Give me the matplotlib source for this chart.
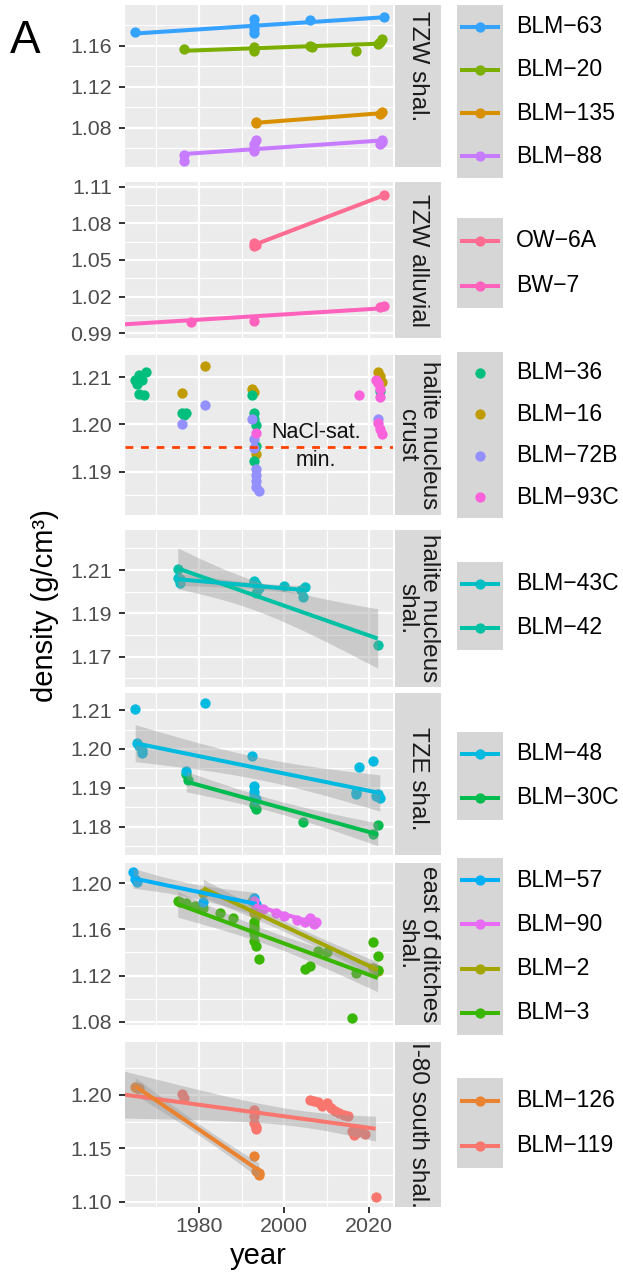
import numpy as np
import matplotlib
matplotlib.use('Agg')
import matplotlib.pyplot as plt
from matplotlib.ticker import FormatStrFormatter

plt.rcParams['font.family'] = ['Liberation Sans', 'DejaVu Sans']

# ---------------- data ----------------
# TZW shal.
blm63_year = [1965, 1993, 1993, 1993, 1993, 2006, 2023.5]
blm63_dens = [1.1730, 1.1860, 1.1800, 1.1760, 1.1720, 1.1845, 1.1880]
blm20_year = [1976.5, 1993, 1993, 1993, 2006, 2006.5, 2017, 2022, 2022.5, 2023]
blm20_dens = [1.1568, 1.1590, 1.1570, 1.1550, 1.1595, 1.1590, 1.1547, 1.1620, 1.1640, 1.1660]
blm135_year = [1993.5, 1993.5, 2022.5, 2023]
blm135_dens = [1.0845, 1.0855, 1.0935, 1.0950]
blm88_year = [1976.5, 1976.5, 1993, 1993, 1993, 1993.5, 2022.5, 2023, 2023]
blm88_dens = [1.0475, 1.0535, 1.0580, 1.0600, 1.0640, 1.0685, 1.0640, 1.0665, 1.0680]

# TZW alluvial
ow6a_year = [1993, 1993, 1993.5, 2023.5]
ow6a_dens = [1.0615, 1.0640, 1.0625, 1.1030]
bw7_year = [1961, 1978, 1993, 2022.5, 2023.5]
bw7_dens = [1.0000, 0.9995, 0.9998, 1.0112, 1.0122]

# halite nucleus crust
blm36_year = [1965, 1965.5, 1966, 1966.5, 1967.5, 1966, 1967, 1976, 1976.5, 1977,
              1992.5, 1993, 1993, 1993.5, 1993.5, 1993, 2022.5]
blm36_dens = [1.2095, 1.2085, 1.2105, 1.2095, 1.2110, 1.2065, 1.2062, 1.2025, 1.2020, 1.2024,
              1.2062, 1.2025, 1.2012, 1.1998, 1.1955, 1.1922, 1.2070]
blm16_year = [1976, 1981.5, 1992.5, 1993, 1993.5, 2022, 2022.5, 2023]
blm16_dens = [1.2066, 1.2123, 1.2074, 1.2068, 1.1938, 1.2110, 1.2103, 1.2090]
blm72b_year = [1976, 1981.5, 1992.5, 1993, 1993, 1993.5, 1993.5, 1993.5, 1993.5, 1994, 2022]
blm72b_dens = [1.2000, 1.2041, 1.2012, 1.1968, 1.1950, 1.1905, 1.1892, 1.1880, 1.1868, 1.1858, 1.2012]
blm93c_year = [1993.5, 2017.5, 2021.5, 2022, 2022.5, 2022.5, 2022, 2022.5, 2023]
blm93c_dens = [1.1982, 1.2062, 1.2095, 1.2088, 1.2075, 1.2058, 1.2003, 1.1990, 1.1980]
nacl_sat_min = 1.1953

# halite nucleus shal.
blm43c_year = [1975, 1975.5, 1993, 1993.5, 1994, 2000, 2004, 2004.5, 2005]
blm43c_dens = [1.2065, 1.2040, 1.2050, 1.2035, 1.2015, 1.2025, 1.2010, 1.1975, 1.2020]
blm42_year = [1975, 1975.5, 1993, 1993.5, 2022]
blm42_dens = [1.2105, 1.2060, 1.2045, 1.1995, 1.1755]

# TZE shal.
blm48_year = [1965, 1965.5, 1966, 1966.5, 1966.5, 1977, 1981.5, 1992.5, 1993, 1993, 1993,
              1993.5, 2017, 2017, 2017.5, 2021, 2021.5, 2022, 2022.5]
blm48_dens = [1.2104, 1.2015, 1.2008, 1.1996, 1.1990, 1.1943, 1.2119, 1.1983, 1.1905, 1.1890, 1.1880,
              1.1870, 1.1890, 1.1885, 1.1953, 1.1970, 1.1880, 1.1885, 1.1875]
blm30c_year = [1977, 1977.5, 1993, 1993, 1993.5, 2004.5, 2021, 2022]
blm30c_dens = [1.1935, 1.1920, 1.1875, 1.1855, 1.1845, 1.1813, 1.1780, 1.1805]

# east of ditches shal.
blm57_year = [1964.5, 1965, 1965.5, 1981, 1993, 1993.5]
blm57_dens = [1.2100, 1.2040, 1.2010, 1.1840, 1.1870, 1.1820]
blm90_year = [1993, 1993.5, 1995, 1998, 2000, 2003, 2005, 2006, 2007, 2007.5]
blm90_dens = [1.1850, 1.1790, 1.1775, 1.1740, 1.1720, 1.1685, 1.1665, 1.1700, 1.1650, 1.1665]
blm2_year = [1981, 1992.5, 1993, 1993.5, 2021, 2021.5, 2022]
blm2_dens = [1.1915, 1.1850, 1.1740, 1.1715, 1.1265, 1.1250, 1.1240]
blm3_year = [1975, 1975.5, 1977, 1979, 1981, 1985, 1988, 1993, 1993, 1993, 1993, 1993, 1993.5, 1994,
             2005, 2006, 2008, 2010, 2016, 2017, 2021, 2022, 2022]
blm3_dens = [1.1850, 1.1840, 1.1830, 1.1800, 1.1790, 1.1740, 1.1700, 1.1660, 1.1630, 1.1600, 1.1560,
             1.1500, 1.1460, 1.1340, 1.1260, 1.1285, 1.1410, 1.1400, 1.0835, 1.1220, 1.1490, 1.1370, 1.1250]

# I-80 south shal.
blm126_year = [1965, 1965.5, 1966, 1993, 1993.5, 1994, 1994]
blm126_dens = [1.2075, 1.2060, 1.2065, 1.1425, 1.1290, 1.1265, 1.1245]
blm119_year = [1961, 1976, 1976.5, 1993, 1993, 1993, 1993.5, 1993.5, 2006, 2007, 2008, 2009,
               2010, 2011, 2012, 2013, 2014, 2015, 2016, 2016.5, 2017, 2018, 2019, 2021.5]
blm119_dens = [1.1860, 1.2005, 1.1970, 1.1860, 1.1800, 1.1740, 1.1700, 1.1680, 1.1950, 1.1945, 1.1930, 1.1900,
               1.1920, 1.1880, 1.1850, 1.1830, 1.1810, 1.1800, 1.1660, 1.1620, 1.1640, 1.1660, 1.1630, 1.1047]

# ggplot hue colours
colors = {
    'BLM-119': '#F8766D', 'BLM-126': '#EA8331', 'BLM-135': '#D89000', 'BLM-16': '#C09B00',
    'BLM-2': '#A3A500', 'BLM-20': '#7CAE00', 'BLM-3': '#39B600', 'BLM-30C': '#00BB4E',
    'BLM-36': '#00BF7D', 'BLM-42': '#00C1A3', 'BLM-43C': '#00BFC4', 'BLM-48': '#00BAE0',
    'BLM-57': '#00B0F6', 'BLM-63': '#35A2FF', 'BLM-72B': '#9590FF', 'BLM-88': '#C77CFF',
    'BLM-90': '#E76BF3', 'BLM-93C': '#FA62DB', 'BW-7': '#FF62BC', 'OW-6A': '#FF6C91',
}

panels = [
    dict(strip='TZW shal.', strip_y=0.62, lines=True, se=False,
         wells=[('BLM-63', blm63_year, blm63_dens), ('BLM-20', blm20_year, blm20_dens),
                ('BLM-135', blm135_year, blm135_dens), ('BLM-88', blm88_year, blm88_dens)],
         ylim=(1.042, 1.1995), yticks=[1.08, 1.12, 1.16], yminor=[1.06, 1.10, 1.14, 1.18],
         box=(5, 167), legend=(5, 178)),
    dict(strip='TZW alluvial', strip_y=0.5, lines=True, se=False,
         wells=[('OW-6A', ow6a_year, ow6a_dens), ('BW-7', bw7_year, bw7_dens)],
         ylim=(0.9862, 1.1138), yticks=[0.99, 1.02, 1.05, 1.08, 1.11],
         yminor=[1.005, 1.035, 1.065, 1.095], box=(182, 338), legend=(218, 308)),
    dict(strip='halite nucleus\ncrust', strip_y=0.5, lines=False, se=False,
         wells=[('BLM-36', blm36_year, blm36_dens), ('BLM-16', blm16_year, blm16_dens),
                ('BLM-72B', blm72b_year, blm72b_dens), ('BLM-93C', blm93c_year, blm93c_dens)],
         ylim=(1.1808, 1.2147), yticks=[1.19, 1.20, 1.21], yminor=[1.185, 1.195, 1.205],
         box=(355, 515), legend=(352, 518)),
    dict(strip='halite nucleus\nshal.', strip_y=0.5, lines=True, se=True,
         wells=[('BLM-43C', blm43c_year, blm43c_dens), ('BLM-42', blm42_year, blm42_dens)],
         ylim=(1.156, 1.2285), yticks=[1.17, 1.19, 1.21], yminor=[1.16, 1.18, 1.20, 1.22],
         box=(530, 687), legend=(562, 650)),
    dict(strip='TZE shal.', strip_y=0.47, lines=True, se=True,
         wells=[('BLM-48', blm48_year, blm48_dens), ('BLM-30C', blm30c_year, blm30c_dens)],
         ylim=(1.1727, 1.2144), yticks=[1.18, 1.19, 1.20, 1.21], yminor=[1.175, 1.185, 1.195, 1.205],
         box=(693, 855), legend=(732, 820)),
    dict(strip='east of ditches\nshal.', strip_y=0.5, lines=True, se=True,
         wells=[('BLM-57', blm57_year, blm57_dens), ('BLM-90', blm90_year, blm90_dens),
                ('BLM-2', blm2_year, blm2_dens), ('BLM-3', blm3_year, blm3_dens)],
         ylim=(1.0771, 1.2176), yticks=[1.08, 1.12, 1.16, 1.20], yminor=[1.10, 1.14, 1.18],
         box=(863, 1025), legend=(858, 1035)),
    dict(strip='I-80 south shal.', strip_y=0.5, lines=True, se=True,
         wells=[('BLM-126', blm126_year, blm126_dens), ('BLM-119', blm119_year, blm119_dens)],
         ylim=(1.095, 1.2495), yticks=[1.10, 1.15, 1.20], yminor=[1.125, 1.175, 1.225],
         box=(1042, 1207), legend=(1078, 1168)),
]

W, H = 623, 1274
XLIM = (1962.6, 2025.6)
PT_SIZE = 55
LINE_W = 2.9
T95 = [12.706, 4.303, 3.182, 2.776, 2.571, 2.447, 2.365, 2.306, 2.262, 2.228,
       2.201, 2.179, 2.160, 2.145, 2.131, 2.120, 2.110, 2.101, 2.093, 2.086,
       2.080, 2.074, 2.069, 2.064, 2.060, 2.056, 2.052, 2.048, 2.045, 2.042]


def px_rect(x0, y0, x1, y1):
    return [x0 / W, 1 - y1 / H, (x1 - x0) / W, (y1 - y0) / H]


def lm_fit(x, y):
    # linear fit with 95% confidence band, like geom_smooth(method = "lm")
    x = np.asarray(x, float)
    y = np.asarray(y, float)
    n = len(x)
    b, a = np.polyfit(x, y, 1)
    xs = np.linspace(x.min(), x.max(), 80)
    fit = a + b * xs
    df = n - 2
    s = np.sqrt(np.sum((y - (a + b * x)) ** 2) / df)
    sxx = np.sum((x - x.mean()) ** 2)
    se = s * np.sqrt(1 / n + (xs - x.mean()) ** 2 / sxx)
    t = T95[df - 1] if df <= 30 else 1.96
    return xs, fit, fit - t * se, fit + t * se


def label(name):
    return name.replace('-', '\u2212')


fig = plt.figure(figsize=(W / 100, H / 100), dpi=100)

for k, p in enumerate(panels):
    top, bot = p['box']
    ax = fig.add_axes(px_rect(125, top, 393, bot))
    ax.set_facecolor('#EBEBEB')
    for sp in ax.spines.values():
        sp.set_visible(False)
    ax.set_xlim(XLIM)
    ax.set_ylim(p['ylim'])
    ax.set_xticks([1980, 2000, 2020])
    ax.set_xticks([1970, 1990, 2010], minor=True)
    ax.set_yticks(p['yticks'])
    ax.set_yticks(p['yminor'], minor=True)
    ax.yaxis.set_major_formatter(FormatStrFormatter('%.2f'))
    ax.grid(which='major', color='white', lw=1.6)
    ax.grid(which='minor', color='white', lw=0.8)
    ax.set_axisbelow(True)
    ax.tick_params(which='minor', length=0)
    ax.tick_params(which='major', length=4, width=1.4, color='#333333',
                   labelsize=15.4, labelcolor='#4D4D4D', pad=5.5)
    if k < len(panels) - 1:
        ax.tick_params(axis='x', which='major', length=0, labelbottom=False)
    else:
        ax.tick_params(axis='x', pad=3.5)

    order = sorted(p['wells'], key=lambda w: w[0])
    for name, yr, dens in order:
        ax.scatter(yr, dens, s=PT_SIZE, color=colors[name], linewidths=0, zorder=2)
    if p['lines']:
        for name, yr, dens in order:
            xs, fit, lo, hi = lm_fit(yr, dens)
            if p['se']:
                ax.fill_between(xs, lo, hi, color='#999999', alpha=0.4, lw=0, zorder=3)
            ax.plot(xs, fit, color=colors[name], lw=LINE_W, solid_capstyle='butt', zorder=4)

    if k == 2:
        ax.axhline(nacl_sat_min, color='#FF4000', lw=2.0, ls=(0, (2.8, 2.8)), zorder=5)
        ax.text(2007.5, nacl_sat_min, 'NaCl-sat.\nmin.', ha='center', va='center',
                multialignment='center', fontsize=15.5, linespacing=1.45, color='#111111', zorder=6)

    # facet strip
    sax = fig.add_axes(px_rect(395, top, 441, bot))
    sax.set_facecolor('#D9D9D9')
    sax.set_xticks([])
    sax.set_yticks([])
    for sp in sax.spines.values():
        sp.set_visible(False)
    sax.text(0.5, p['strip_y'], p['strip'], transform=sax.transAxes, rotation=-90,
             ha='center', va='center', multialignment='center', fontsize=17.5,
             linespacing=0.95, color='#1A1A1A', clip_on=True)

    # legend
    ltop, lbot = p['legend']
    n = len(p['wells'])
    lax = fig.add_axes(px_rect(457, ltop, 503, lbot))
    lax.set_facecolor('#D6D6D6')
    lax.set_xticks([])
    lax.set_yticks([])
    for sp in lax.spines.values():
        sp.set_visible(False)
    lax.set_xlim(0, 1)
    lax.set_ylim(n, 0)
    for i, (name, yr, dens) in enumerate(p['wells']):
        if p['lines']:
            lax.plot([0.06, 0.94], [i + 0.5, i + 0.5], color=colors[name], lw=LINE_W,
                     solid_capstyle='butt')
        lax.scatter([0.5], [i + 0.5], s=PT_SIZE, color=colors[name], linewidths=0, zorder=3)
        lax.text(1.283, i + 0.5, label(name), ha='left', va='center', fontsize=16.6,
                 color='black', clip_on=False)

fig.text(10 / W, 1 - 53 / H, 'A', fontsize=33, ha='left', va='baseline')
fig.text(45 / W, 1 - 606 / H, 'density (g/cm\u00b3)', rotation=90, ha='center', va='center',
         fontsize=21)
fig.text(258 / W, 1 - 1256 / H, 'year', ha='center', va='center', fontsize=21)

fig.savefig('out.png', dpi=100)
